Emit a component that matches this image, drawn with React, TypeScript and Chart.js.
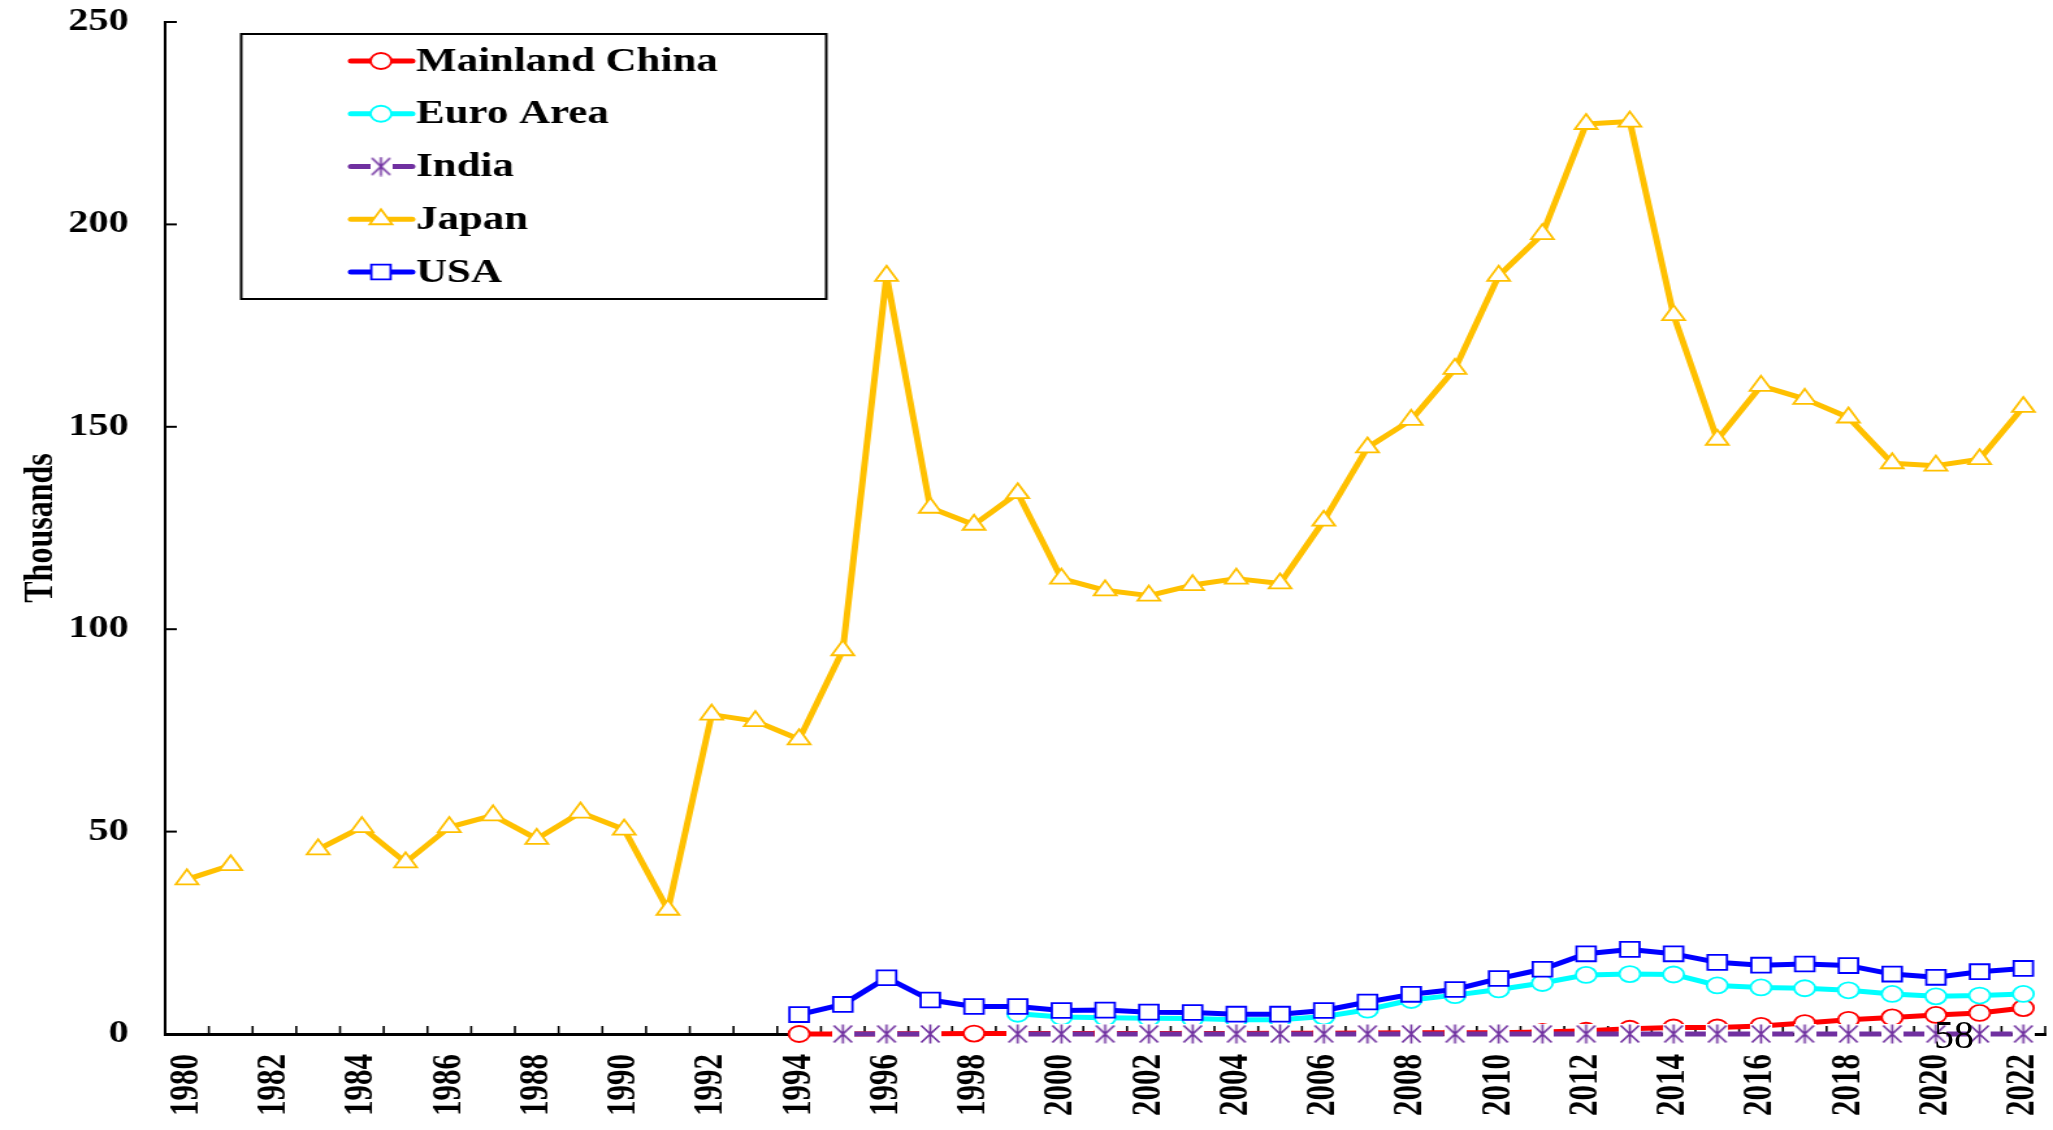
import React, { useEffect, useRef } from 'react';
import { Chart, registerables } from 'chart.js';

Chart.register(...registerables);

// ---------- data ----------
const years = [
  '1980', '1981', '1982', '1983', '1984', '1985', '1986', '1987', '1988', '1989',
  '1990', '1991', '1992', '1993', '1994', '1995', '1996', '1997', '1998', '1999',
  '2000', '2001', '2002', '2003', '2004', '2005', '2006', '2007', '2008', '2009',
  '2010', '2011', '2012', '2013', '2014', '2015', '2016', '2017', '2018', '2019',
  '2020', '2021', '2022',
];

const mainlandChina = [
  null, null, null, null, null, null, null, null, null, null, null, null, null, null,
  0, 0, 0.05, 0.05, 0.1, 0.1, 0.1, 0.1, 0.1, 0.15, 0.15, 0.2, 0.2, 0.25, 0.3, 0.3,
  0.3, 0.5, 0.8, 1.3, 1.6, 1.6, 2.0, 2.7, 3.5, 4.1, 4.7, 5.2, 6.4,
];

const euroArea = [
  null, null, null, null, null, null, null, null, null, null, null, null, null, null,
  null, null, null, null, null, 5.0, 4.2, 4.0, 3.9, 3.8, 3.5, 3.5, 4.3, 6.0, 8.4, 9.6,
  11.0, 12.6, 14.6, 14.8, 14.7, 12.0, 11.5, 11.3, 10.8, 9.9, 9.3, 9.5, 9.9,
];

const india = [
  null, null, null, null, null, null, null, null, null, null, null, null, null, null,
  null, 0, 0, 0, null, 0, 0, 0, 0, 0, 0, 0, 0, 0, 0, 0,
  0, 0, 0, 0, 0, 0, 0, 0, 0, 0, 0, 0, 0,
];

const japan = [
  38.2, 41.7, null, 45.6, 51.1, 42.4, 51.1, 54.0, 48.2, 54.7,
  50.5, 30.7, 78.9, 77.3, 72.8, 94.8, 187.3, 130.0, 125.8, 133.6,
  112.5, 109.6, 108.3, 110.9, 112.5, 111.3, 126.8, 144.9, 151.7, 164.3,
  187.3, 197.6, 224.8, 225.4, 177.6, 146.8, 160.1, 156.9, 152.3, 141.0,
  140.4, 142.0, 154.9,
];

const usa = [
  null, null, null, null, null, null, null, null, null, null, null, null, null, null,
  4.8, 7.3, 13.9, 8.4, 6.8, 6.8, 5.8, 5.9, 5.4, 5.3, 4.9, 4.9, 5.8, 7.9, 9.8, 11.0,
  13.7, 16.0, 19.8, 20.9, 19.8, 17.7, 17.0, 17.3, 16.9, 14.8, 14.0, 15.4, 16.2,
];

const yTickValues = [0, 50, 100, 150, 200, 250];
const yTitle = 'Thousands';
const pageNumber = '58';

// ---------- layout / style ----------
const VIEW_W = 2053;
const VIEW_H = 1130;
const STRETCH = 1.3;
const CANVAS_W = Math.round(VIEW_W / STRETCH);
const FONT = '"Liberation Serif", "Times New Roman", serif';

const COLORS = {
  china: '#FF0000',
  euro: '#00FFFF',
  india: '#7030A0',
  japan: '#FFC000',
  usa: '#0000FF',
};

function makeIndiaMarker(): HTMLCanvasElement {
  const c = document.createElement('canvas');
  c.width = 17;
  c.height = 20;
  const g = c.getContext('2d') as CanvasRenderingContext2D;
  g.fillStyle = '#FFFFFF';
  g.fillRect(0, 0, 17, 20);
  g.strokeStyle = COLORS.india;
  g.lineWidth = 1.6;
  g.beginPath();
  g.moveTo(1.5, 1.5);
  g.lineTo(15.5, 18.5);
  g.moveTo(15.5, 1.5);
  g.lineTo(1.5, 18.5);
  g.moveTo(8.5, 0.5);
  g.lineTo(8.5, 19.5);
  g.stroke();
  return c;
}

function drawMarker(
  ctx: CanvasRenderingContext2D,
  style: string,
  r: number,
  x: number,
  y: number,
  color: string,
  img?: HTMLCanvasElement
) {
  if (style === 'image' && img) {
    ctx.drawImage(img, x - img.width / 2, y - img.height / 2);
    return;
  }
  ctx.beginPath();
  if (style === 'circle') {
    ctx.arc(x, y, r, 0, Math.PI * 2);
  } else if (style === 'triangle') {
    ctx.moveTo(x, y - r);
    ctx.lineTo(x + r * Math.sin((2 * Math.PI) / 3), y + r * 0.5);
    ctx.lineTo(x - r * Math.sin((2 * Math.PI) / 3), y + r * 0.5);
    ctx.closePath();
  } else if (style === 'rect') {
    const s = r * Math.SQRT1_2;
    ctx.rect(x - s, y - s, 2 * s, 2 * s);
  }
  ctx.fillStyle = '#FFFFFF';
  ctx.fill();
  ctx.lineWidth = 1.8;
  ctx.strokeStyle = color;
  ctx.stroke();
}

export default function App() {
  const ref = useRef<HTMLCanvasElement>(null);

  useEffect(() => {
    const canvas = ref.current;
    if (!canvas) return;
    const indiaMarker = makeIndiaMarker();

    const legendItems = [
      { label: 'Mainland China', color: COLORS.china, style: 'circle', r: 8 },
      { label: 'Euro Area', color: COLORS.euro, style: 'circle', r: 8 },
      { label: 'India', color: COLORS.india, style: 'image', r: 8 },
      { label: 'Japan', color: COLORS.japan, style: 'triangle', r: 10 },
      { label: 'USA', color: COLORS.usa, style: 'rect', r: 10.5 },
    ];

    const axisTicks = {
      id: 'axisTicks',
      beforeDatasetsDraw(chart: any) {
        const { ctx, chartArea, scales } = chart;
        const x = scales.x;
        const y = scales.y;
        ctx.save();
        ctx.strokeStyle = '#000000';
        ctx.lineWidth = 2;
        y.ticks.forEach((t: any) => {
          const py = y.getPixelForValue(t.value);
          ctx.beginPath();
          ctx.moveTo(chartArea.left, py);
          ctx.lineTo(chartArea.left + 9, py);
          ctx.stroke();
        });
        ctx.lineWidth = 1.6;
        const step = x.getPixelForValue(1) - x.getPixelForValue(0);
        const n = x.getLabels().length;
        for (let i = 0; i < n; i++) {
          const px = x.getPixelForValue(i) + step / 2;
          ctx.beginPath();
          ctx.moveTo(px, chartArea.bottom);
          ctx.lineTo(px, chartArea.bottom - 8);
          ctx.stroke();
        }
        ctx.restore();
      },
    };

    const boxLegend = {
      id: 'boxLegend',
      afterDraw(chart: any) {
        const { ctx } = chart;
        const left = 185.5;
        const right = 635.5;
        const top = 34;
        const bottom = 299;
        ctx.save();
        ctx.fillStyle = '#FFFFFF';
        ctx.fillRect(left, top, right - left, bottom - top);
        ctx.strokeStyle = '#000000';
        ctx.lineWidth = 2;
        ctx.strokeRect(left, top, right - left, bottom - top);
        legendItems.forEach((item, i) => {
          const cy = 61 + i * 52.75;
          ctx.beginPath();
          ctx.strokeStyle = item.color;
          ctx.lineWidth = 5;
          ctx.lineCap = 'round';
          ctx.moveTo(270, cy);
          ctx.lineTo(317, cy);
          ctx.stroke();
          drawMarker(ctx, item.style, item.r, 293, cy, item.color, indiaMarker);
          ctx.fillStyle = '#000000';
          ctx.font = `bold 33px ${FONT}`;
          ctx.textAlign = 'left';
          ctx.textBaseline = 'middle';
          ctx.fillText(item.label, 320, cy + 1);
        });
        ctx.restore();
      },
    };

    const indiaDash = (c: any) => {
      const x = c.chart && c.chart.scales ? c.chart.scales.x : null;
      if (!x) return [25, 8.5];
      const L = x.getPixelForValue(1) - x.getPixelForValue(0);
      if (!isFinite(L) || L <= 0) return [25, 8.5];
      return [L * 0.75, L * 0.25];
    };

    const common = {
      borderWidth: 5,
      pointBorderWidth: 1.8,
      pointBackgroundColor: '#FFFFFF',
      backgroundColor: '#FFFFFF',
      spanGaps: false,
      tension: 0,
      clip: false as any,
      borderJoinStyle: 'round' as const,
      borderCapStyle: 'round' as const,
    };

    const chart = new Chart(canvas, {
      type: 'line',
      data: {
        labels: years,
        datasets: [
          {
            ...common,
            label: 'USA',
            data: usa,
            borderColor: COLORS.usa,
            pointBorderColor: COLORS.usa,
            pointStyle: 'rect',
            pointRadius: 10.5,
          },
          {
            ...common,
            label: 'Japan',
            data: japan,
            borderColor: COLORS.japan,
            pointBorderColor: COLORS.japan,
            pointStyle: 'triangle',
            pointRadius: 10,
          },
          {
            ...common,
            label: 'India',
            data: india,
            borderColor: COLORS.india,
            pointBorderColor: COLORS.india,
            pointStyle: indiaMarker as any,
            pointRadius: 8,
            borderDash: indiaDash as any,
            borderCapStyle: 'butt' as const,
          },
          {
            ...common,
            label: 'Euro Area',
            data: euroArea,
            borderColor: COLORS.euro,
            pointBorderColor: COLORS.euro,
            pointStyle: 'circle',
            pointRadius: 8,
          },
          {
            ...common,
            label: 'Mainland China',
            data: mainlandChina,
            borderColor: COLORS.china,
            pointBorderColor: COLORS.china,
            pointStyle: 'circle',
            pointRadius: 8,
          },
        ],
      },
      options: {
        animation: false,
        responsive: false,
        events: [],
        layout: { autoPadding: false, padding: { left: 13, top: 22, right: 6, bottom: 0 } },
        plugins: {
          legend: { display: false },
          tooltip: { enabled: false },
        },
        scales: {
          x: {
            type: 'category',
            offset: true,
            grid: { display: false, drawTicks: false },
            border: { display: true, color: '#000000', width: 3 },
            ticks: {
              autoSkip: false,
              minRotation: 90,
              maxRotation: 90,
              padding: 20,
              color: '#000000',
              font: { family: FONT, size: 31, weight: 'bold' },
              callback: (_v: any, i: number) => (i % 2 === 0 ? years[i] : ''),
            },
            afterFit: (s: any) => {
              s.height = 96;
              s.paddingLeft = 0;
              s.paddingRight = 0;
              s.paddingTop = 0;
              s.paddingBottom = 0;
            },
          },
          y: {
            min: 0,
            max: 250,
            grid: { display: false, drawTicks: false },
            border: { display: true, color: '#000000', width: 2 },
            afterBuildTicks: (s: any) => {
              s.ticks = yTickValues.map((v) => ({ value: v }));
            },
            ticks: {
              padding: 28,
              color: '#000000',
              font: { family: FONT, size: 31, weight: 'bold' },
            },
            title: {
              display: true,
              text: yTitle,
              color: '#000000',
              padding: 0,
              font: { family: FONT, size: 32, weight: 'bold' },
            },
            afterFit: (s: any) => {
              s.width = 114;
              s.paddingLeft = 0;
              s.paddingRight = 0;
              s.paddingTop = 0;
              s.paddingBottom = 0;
            },
          },
        },
      },
      plugins: [axisTicks, boxLegend],
    } as any);

    return () => chart.destroy();
  }, []);

  return (
    <div
      style={{
        position: 'fixed',
        left: 0,
        top: 0,
        width: VIEW_W,
        height: VIEW_H,
        background: '#FFFFFF',
        overflow: 'hidden',
      }}
    >
      <canvas
        ref={ref}
        width={CANVAS_W}
        height={VIEW_H}
        style={{ width: `${VIEW_W}px`, height: `${VIEW_H}px`, display: 'block' }}
      />
      <div
        style={{
          position: 'absolute',
          left: 1934,
          top: 1015,
          fontFamily: FONT,
          fontSize: 40,
          lineHeight: '40px',
          color: '#000000',
        }}
      >
        {pageNumber}
      </div>
    </div>
  );
}
